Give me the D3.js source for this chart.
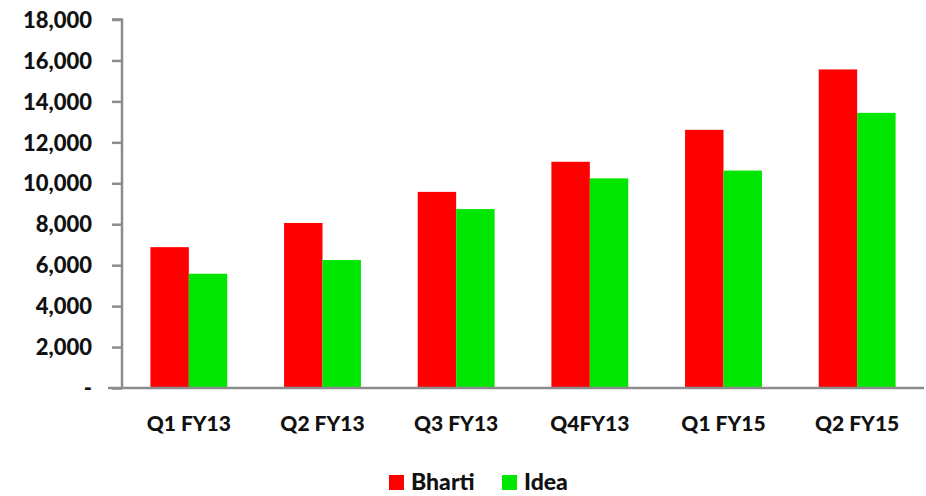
<!DOCTYPE html>
<html>
<head>
<meta charset="utf-8">
<script src="https://cdn.jsdelivr.net/npm/d3@7"></script>
<style>
  body { margin: 0; background: #fff; }
  text { font-family: Lato, "Open Sans", sans-serif; font-weight: 900; fill: #111; }
</style>
</head>
<body>
<div id="chart"></div>
<script>
const categories = ["Q1 FY13", "Q2 FY13", "Q3 FY13", "Q4FY13", "Q1 FY15", "Q2 FY15"];
const seriesNames = ["Bharti", "Idea"];
const bharti = [6880, 8060, 9580, 11050, 12610, 15560];
const idea = [5580, 6250, 8740, 10240, 10620, 13440];
const yTicks = [0, 2000, 4000, 6000, 8000, 10000, 12000, 14000, 16000, 18000];
const colors = ["#ff0000", "#00e600"];

const width = 926, height = 496;
const plotLeft = 122, plotRight = 924, plotTop = 19.5, plotBottom = 388;

const svg = d3.select("#chart").append("svg")
  .attr("width", width)
  .attr("height", height);

const x = d3.scaleBand().domain(categories).range([plotLeft, plotRight]).paddingInner(0.425).paddingOuter(0.2125);
const x1 = d3.scaleBand().domain(seriesNames).range([0, x.bandwidth()]);
const y = d3.scaleLinear().domain([0, 18000]).range([plotBottom, plotTop]);

const rows = categories.map((c, i) => ({ cat: c, vals: [bharti[i], idea[i]] }));

// bars
const grp = svg.append("g").selectAll("g")
  .data(rows)
  .enter()
  .append("g")
  .attr("transform", d => `translate(${x(d.cat)},0)`);

grp.selectAll("rect")
  .data(d => d.vals.map((v, k) => ({ name: seriesNames[k], v: v, k: k })))
  .enter()
  .append("rect")
  .attr("x", d => x1(d.name))
  .attr("width", x1.bandwidth())
  .attr("y", d => y(d.v))
  .attr("height", d => plotBottom - y(d.v))
  .attr("fill", d => colors[d.k]);

// y axis
const yAxis = d3.axisLeft(y)
  .tickValues(yTicks)
  .tickSize(10)
  .tickPadding(20)
  .tickFormat(d => d === 0 ? "-" : d3.format(",")(d));

const ya = svg.append("g")
  .attr("transform", `translate(${plotLeft},0)`)
  .call(yAxis);
ya.select(".domain").attr("stroke", "#8c8c8c").attr("stroke-width", 2.5).attr("d", `M-10,${plotTop}H0V${plotBottom}`);
ya.selectAll(".tick line").attr("stroke", "#8c8c8c").attr("stroke-width", 2.5);
ya.selectAll(".tick text").style("font-size", "22px").attr("dy", "0.35em");

// x axis
const xa = svg.append("g")
  .attr("transform", `translate(0,${plotBottom})`)
  .call(d3.axisBottom(x).tickSize(0).tickPadding(28));
xa.select(".domain").attr("stroke", "#8c8c8c").attr("stroke-width", 2.5).attr("d", `M108,0H${plotRight}`);
xa.selectAll(".tick text").style("font-size", "21px");

// legend
const legend = svg.append("g");
const legendX = [389, 502];
seriesNames.forEach((n, k) => {
  legend.append("rect")
    .attr("x", legendX[k]).attr("y", 475)
    .attr("width", 15).attr("height", 15)
    .attr("fill", colors[k]);
  legend.append("text")
    .attr("x", legendX[k] + 22).attr("y", 490)
    .style("font-size", "23px")
    .text(n);
});
</script>
</body>
</html>
